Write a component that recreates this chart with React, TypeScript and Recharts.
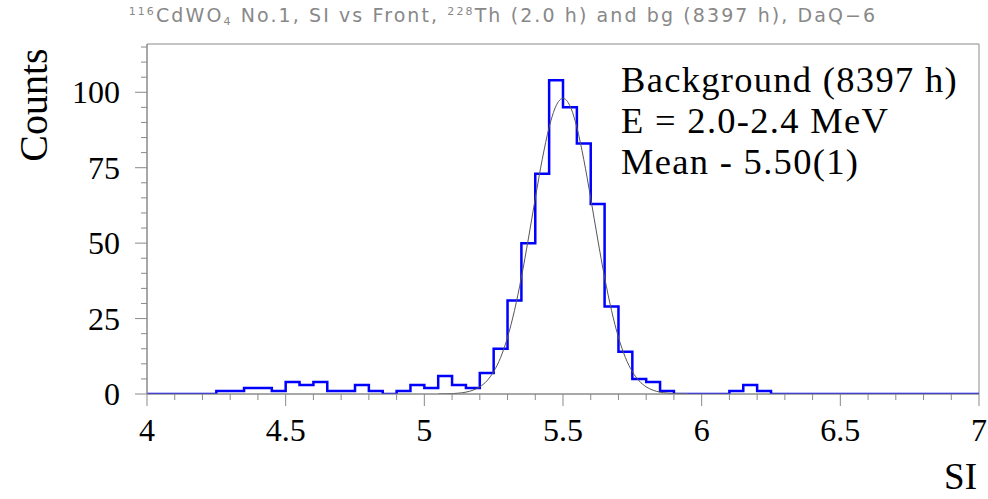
import { LineChart, Line, XAxis, YAxis, ReferenceArea } from 'recharts';

// histogram binning (SI), 0.05 wide bins from 4 to 7
const binStart = 4.0;
const binWidth = 0.05;
const counts = [
  0, 0, 0, 0, 0,
  1, 1, 2, 2, 1,
  4, 3, 4, 1, 1,
  3, 1, 0, 1, 3,
  2, 6, 3, 2, 7,
  15, 31, 50, 73, 104,
  95, 83, 63, 29, 14,
  5, 4, 1, 0, 0,
  0, 0, 1, 3, 1,
  0, 0, 0, 0, 0,
  0, 0, 0, 0, 0,
  0, 0, 0, 0, 0,
];

// gaussian fit curve
const fitStart = 5.05;
const fitStep = 0.025;
const fitValues = [
  0.02, 0.06, 0.13, 0.29, 0.62, 1.24, 2.38, 4.3, 7.41, 12.09, 18.77, 27.65,
  38.67, 51.38, 64.83, 77.67, 88.39, 95.5, 98.0, 95.5, 88.39, 77.67, 64.83,
  51.38, 38.67, 27.65, 18.77, 12.09, 7.41, 4.3, 2.38, 1.24, 0.62, 0.29, 0.13,
  0.06, 0.02,
];

const xMajorTicks = [4, 4.5, 5, 5.5, 6, 6.5, 7];
const xTicks = Array.from({ length: 31 }, (_, i) => Number((4 + i * 0.1).toFixed(1)));
const yMajorTicks = [0, 25, 50, 75, 100];
const yTicks = Array.from({ length: 24 }, (_, i) => i * 5);

const legendLines = ['Background (8397 h)', 'E = 2.0-2.4 MeV', 'Mean - 5.50(1)'];

const histData = counts
  .map((c, i) => ({ x: Number((binStart + i * binWidth).toFixed(2)), y: c }))
  .concat([{ x: Number((binStart + counts.length * binWidth).toFixed(2)), y: counts[counts.length - 1] }]);

const fitData = fitValues.map((v, i) => ({ x: Number((fitStart + i * fitStep).toFixed(3)), y: v }));

const serif = '"Liberation Serif", "Times New Roman", serif';
const axisGrey = '#8a8a8a';

const XTick = (props: any) => {
  const { x, y, payload } = props;
  const major = xMajorTicks.includes(payload.value);
  return (
    <g>
      <line x1={x} x2={x} y1={y} y2={y + (major ? 12 : 6)} stroke={axisGrey} />
      {major && (
        <text x={x} y={y + 47} textAnchor="middle" fontFamily={serif} fontSize={32} fill="#000">
          {payload.value}
        </text>
      )}
    </g>
  );
};

const YTick = (props: any) => {
  const { x, y, payload } = props;
  const major = yMajorTicks.includes(payload.value);
  return (
    <g>
      <line x1={x - (major ? 12 : 6)} x2={x} y1={y} y2={y} stroke={axisGrey} />
      {major && (
        <text x={x - 27} y={y + 11} textAnchor="end" fontFamily={serif} fontSize={32} fill="#000">
          {payload.value}
        </text>
      )}
    </g>
  );
};

export default function App() {
  return (
    <div style={{ position: 'absolute', left: 0, top: 0, width: 988, height: 499 }}>
      <LineChart width={988} height={499} margin={{ top: 44, right: 9, bottom: 65, left: 7 }}>
        <XAxis
          type="number"
          dataKey="x"
          domain={[4, 7]}
          ticks={xTicks}
          tick={<XTick />}
          tickLine={false}
          tickSize={0}
          tickMargin={0}
          height={40}
          interval={0}
          stroke={axisGrey}
          allowDataOverflow
        />
        <YAxis
          type="number"
          domain={[0, 116]}
          ticks={yTicks}
          tick={<YTick />}
          tickLine={false}
          tickSize={0}
          tickMargin={0}
          width={140}
          interval={0}
          stroke={axisGrey}
          allowDataOverflow
        />
        <ReferenceArea x1={4} x2={7} y1={0} y2={116} fill="none" stroke={axisGrey} strokeWidth={1} />
        <Line
          data={histData}
          dataKey="y"
          type="stepAfter"
          stroke="#0000ff"
          strokeWidth={2.5}
          dot={false}
          isAnimationActive={false}
        />
        <Line
          data={fitData}
          dataKey="y"
          type="monotone"
          stroke="#555"
          strokeWidth={1}
          dot={false}
          isAnimationActive={false}
        />
      </LineChart>
      <svg
        width={988}
        height={499}
        style={{ position: 'absolute', left: 0, top: 0, pointerEvents: 'none' }}
      >
        <text
          x={503}
          y={22}
          textAnchor="middle"
          fontFamily='"DejaVu Sans", sans-serif'
          fontSize={19}
          letterSpacing={2.1}
          fill="#888"
        >
          <tspan fontSize={11} dy={-7}>116</tspan>
          <tspan dy={7}>CdWO</tspan>
          <tspan fontSize={11} dy={3}>4</tspan>
          <tspan dy={-3}> No.1, SI vs Front, </tspan>
          <tspan fontSize={11} dy={-7}>228</tspan>
          <tspan dy={7}>Th (2.0 h) and bg (8397 h), DaQ−6</tspan>
        </text>
        <text
          x={47}
          y={105}
          transform="rotate(-90 47 105)"
          textAnchor="middle"
          fontFamily={serif}
          fontSize={40}
          fill="#000"
        >
          Counts
        </text>
        <text x={977} y={489} textAnchor="end" fontFamily={serif} fontSize={37} fill="#000">
          SI
        </text>
        {legendLines.map((t, i) => (
          <text
            key={t}
            x={621}
            y={92 + i * 41}
            fontFamily={serif}
            fontSize={36.5}
            letterSpacing={1.3}
            fill="#000"
          >
            {t}
          </text>
        ))}
      </svg>
    </div>
  );
}
